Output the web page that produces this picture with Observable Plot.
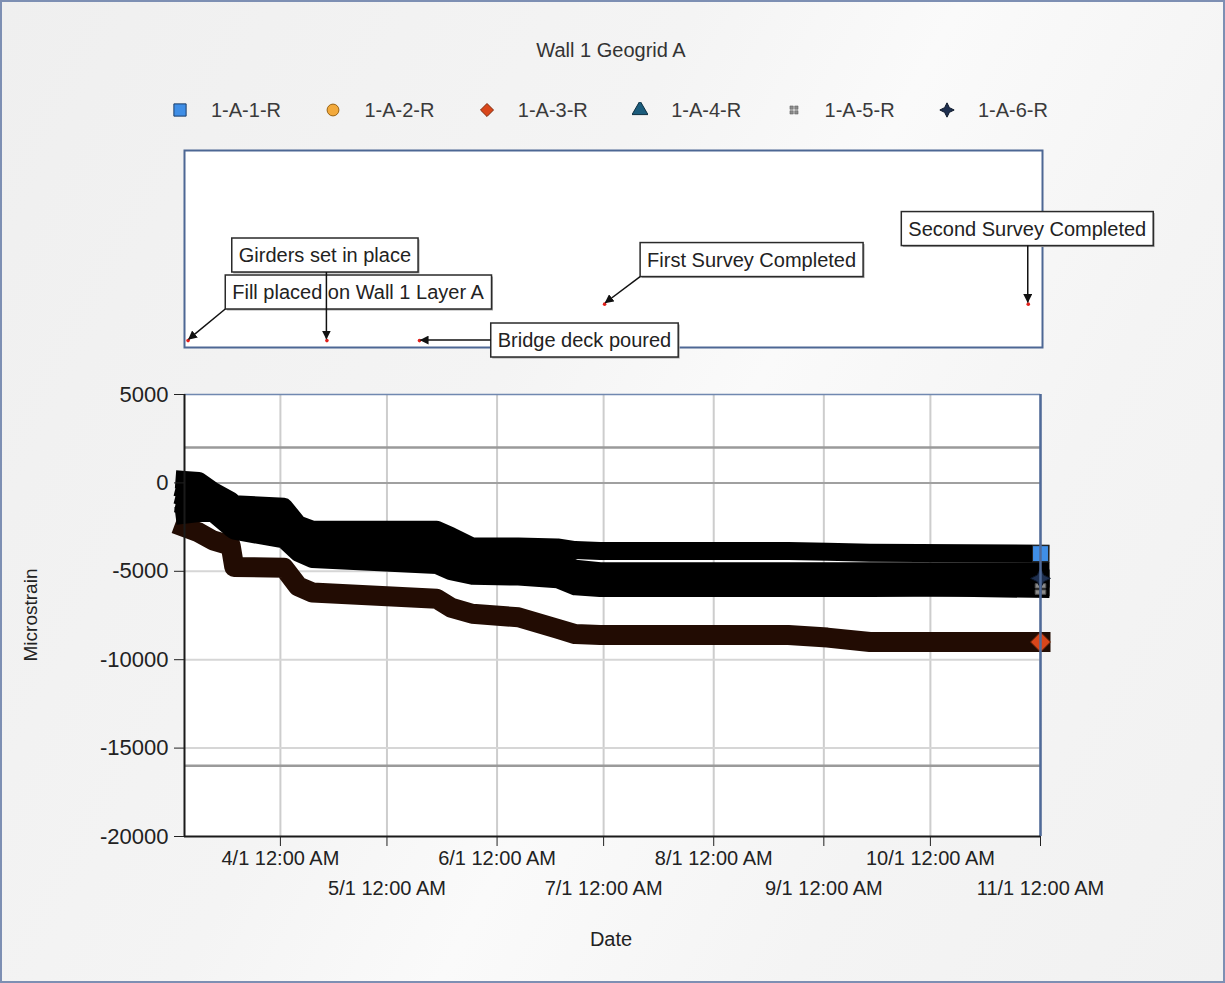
<!DOCTYPE html>
<html>
<head>
<meta charset="utf-8">
<script src="https://cdn.jsdelivr.net/npm/d3@7"></script>
<script src="https://cdn.jsdelivr.net/npm/@observablehq/plot@0.6"></script>
<style>
  html, body { margin: 0; padding: 0; }
  body {
    width: 1225px; height: 983px; position: relative; overflow: hidden;
    font-family: "Liberation Sans", Arial, sans-serif; color: #333;
    background: linear-gradient(118deg, #efefef 0%, #f4f4f4 40%, #fafafa 55%, #f4f4f4 75%, #f1f1f1 100%);
  }
  #border { position: absolute; left: 0; top: 0; width: 1225px; height: 983px; box-sizing: border-box; border: 2px solid #7d8fb3; pointer-events: none; }
  #title { position: absolute; left: 0; width: 1222px; top: 38px; text-align: center; font-size: 20px; line-height: 24px; color: #333; }
  #legend { position: absolute; left: 172px; top: 98px; height: 24px; display: flex; }
  .item { width: 153.4px; display: flex; align-items: center; font-size: 20px; color: #3a3a3a; }
  .item svg { flex: none; }
  .item span { margin-left: 23px; }
  #panel { position: absolute; left: 0; top: 140px; }
  #main { position: absolute; left: 0; top: 360px; }
  #ytitle { position: absolute; left: 31px; top: 615px; transform: translate(-50%, -50%) rotate(-90deg); font-size: 19px; color: #222; white-space: nowrap; }
  #xtitle { position: absolute; left: 0; width: 1222px; top: 928px; text-align: center; font-size: 20px; color: #222; }
</style>
</head>
<body>
<div id="title">Wall 1 Geogrid A</div>
<div id="legend"></div>
<div id="panel"></div>
<div id="main"></div>
<div id="ytitle">Microstrain</div>
<div id="xtitle">Date</div>
<div id="border"></div>
<script>
// ---------------- DATA ----------------
const seriesNames = ["1-A-1-R", "1-A-2-R", "1-A-3-R", "1-A-4-R", "1-A-5-R", "1-A-6-R"];
const sampleDates = ["2011-03-05","2011-03-09","2011-03-13","2011-03-18","2011-03-19","2011-04-02","2011-04-06","2011-04-10","2011-05-15","2011-05-19","2011-05-25","2011-06-07","2011-06-18","2011-06-23","2011-06-30","2011-08-22","2011-09-02","2011-09-14","2011-11-01"];
const s1A1R = [170, 110, -450, -1000, -1200, -1350, -2350, -2650, -2650, -3000, -3600, -3600, -3650, -3800, -3850, -3850, -3900, -3950, -4000];
const s1A2R = [-350, -550, -900, -1400, -1600, -1800, -2750, -3100, -3300, -3750, -4200, -4300, -4450, -4850, -5000, -5000, -5000, -5000, -5000];
const s1A3R = [-2500, -2800, -3250, -3550, -4750, -4800, -5850, -6200, -6550, -7050, -7400, -7600, -8250, -8550, -8600, -8600, -8750, -9000, -9000];
const s1A4R = [-1800, -1700, -1700, -2550, -2700, -3200, -3950, -4300, -4650, -5000, -5250, -5300, -5450, -5850, -5950, -5950, -5950, -5950, -5900];
const s1A5R = [-1250, -1400, -1600, -2150, -2300, -2700, -3550, -3900, -4200, -4650, -4900, -5000, -5100, -5550, -5650, -5700, -5750, -5850, -6000];
const s1A6R = [-800, -1000, -1300, -1850, -2050, -2250, -3150, -3550, -3800, -4250, -4600, -4650, -4800, -5200, -5300, -5300, -5350, -5350, -5400];
const limitValues = [2000, -16000];

const xDomainDates = ["2011-03-05", "2011-11-01"];
const monthTickDates = ["2011-04-01","2011-05-01","2011-06-01","2011-07-01","2011-08-01","2011-09-01","2011-10-01","2011-11-01"];
const yTicks = [5000, 0, -5000, -10000, -15000, -20000];

const eventLabels = ["Fill placed on Wall 1 Layer A", "Girders set in place", "Bridge deck poured", "First Survey Completed", "Second Survey Completed"];
const eventDates = ["2011-03-06", "2011-04-14", "2011-05-10", "2011-07-01", "2011-10-28"];
const eventLevels = [0.035, 0.035, 0.035, 0.22, 0.22];

// ---------------- LAYOUT / STYLE ----------------
const FONT = "'Liberation Sans', Arial, sans-serif";
const calloutOffsets = [[170, -48], [-2, -85], [165, 0], [147, -44], [-1, -75]];
const seriesColors = ["#3f8ee6", "#f2a93b", "#d9461a", "#1b5c7c", "#8c8c8c", "#1f3050"];
const seriesEdge = ["#1a3d6a", "#9a6414", "#7e2a0c", "#0c2e40", "#555", "#0c1628"];

const star4 = { draw(ctx, size) { const r = Math.sqrt(size) * 0.8, k = r * 0.33;
  ctx.moveTo(0, -r); ctx.lineTo(k, -k); ctx.lineTo(r, 0); ctx.lineTo(k, k);
  ctx.lineTo(0, r); ctx.lineTo(-k, k); ctx.lineTo(-r, 0); ctx.lineTo(-k, -k); ctx.closePath(); } };
const hash = { draw(ctx, size) { const s = Math.sqrt(size) / 2, q = s * 0.7;
  for (const [cx, cy] of [[-s/2, -s/2], [s/2, -s/2], [-s/2, s/2], [s/2, s/2]]) {
    ctx.moveTo(cx - q/2, cy - q/2); ctx.lineTo(cx + q/2, cy - q/2); ctx.lineTo(cx + q/2, cy + q/2); ctx.lineTo(cx - q/2, cy + q/2); ctx.closePath(); } } };
const rhombus = { draw(ctx, size) { const r = Math.sqrt(size) * 0.62;
  ctx.moveTo(0, -r); ctx.lineTo(r, 0); ctx.lineTo(0, r); ctx.lineTo(-r, 0); ctx.closePath(); } };
const seriesSymbols = [d3.symbolSquare, d3.symbolCircle, rhombus, d3.symbolTriangle, hash, star4];
const legendSizes = [150, 110, 110, 110, 90, 80];

// ---------------- BUILD ----------------
const parse = d3.utcParse("%Y-%m-%d");
const X_DOMAIN = xDomainDates.map(parse);
const monthTicks = monthTickDates.map(parse);
const row1 = monthTicks.filter((d, i) => i % 2 === 0);
const row2 = monthTicks.filter((d, i) => i % 2 === 1);
const fmt = d => `${d.getUTCMonth() + 1}/${d.getUTCDate()} 12:00 AM`;

const seriesValues = [s1A1R, s1A2R, s1A3R, s1A4R, s1A5R, s1A6R];
const rows = seriesNames.map((name, k) => sampleDates.map((d, i) => ({series: name, date: parse(d), value: seriesValues[k][i]})));
const drawOrder = ["1-A-4-R", "1-A-5-R", "1-A-6-R", "1-A-2-R", "1-A-1-R"];
const blackRows = drawOrder.flatMap(n => rows[seriesNames.indexOf(n)]);
const redRows = rows[seriesNames.indexOf("1-A-3-R")];
const endMarkerSeries = ["1-A-5-R", "1-A-6-R", "1-A-1-R", "1-A-3-R"];

// Legend
const legend = d3.select("#legend");
seriesNames.forEach((name, k) => {
  const item = legend.append("div").attr("class", "item");
  const s = item.append("svg").attr("width", 16).attr("height", 16);
  s.append("path").attr("transform", "translate(8,8)")
    .attr("d", d3.symbol().type(seriesSymbols[k]).size(legendSizes[k])())
    .attr("fill", seriesColors[k]).attr("stroke", seriesEdge[k]).attr("stroke-width", k === 4 ? 0.5 : 1);
  item.append("span").text(name);
});

// Main chart
const endMarks = endMarkerSeries.map(name => {
  const k = seriesNames.indexOf(name);
  const last = rows[k][rows[k].length - 1];
  return Plot.dot([last], {x: "date", y: "value", symbol: seriesSymbols[k], fill: seriesColors[k],
    stroke: name === "1-A-1-R" ? "#222" : seriesEdge[k], strokeWidth: 1,
    r: name === "1-A-1-R" ? 9 : name === "1-A-3-R" ? 9 : 7});
});

const main = Plot.plot({
  width: 1225, height: 600,
  marginLeft: 184, marginRight: 185, marginTop: 34, marginBottom: 124,
  style: {background: "transparent", fontFamily: FONT, color: "#222", overflow: "visible"},
  x: {type: "utc", domain: X_DOMAIN},
  y: {domain: [-20000, 5000]},
  marks: [
    Plot.frame({fill: "white", stroke: null}),
    Plot.ruleX(monthTicks, {stroke: "#cdcdcd", strokeWidth: 2}),
    Plot.ruleY(yTicks.filter(v => v < 0 && v > -20000), {stroke: "#d6d6d6", strokeWidth: 2}),
    Plot.ruleY([0], {stroke: "#a0a0a0", strokeWidth: 2}),
    Plot.ruleY(limitValues, {stroke: "#9a9a9a", strokeWidth: 2.5}),
    Plot.line(redRows, {x: "date", y: "value", stroke: "#220c03", strokeWidth: 20, strokeLinejoin: "round", strokeLinecap: "square"}),
    Plot.line(blackRows, {x: "date", y: "value", z: "series", stroke: "#000", strokeWidth: 18, strokeLinejoin: "round", strokeLinecap: "square"}),
    ...endMarks,
    Plot.ruleY([5000], {stroke: "#7088b0", strokeWidth: 1.5}),
    Plot.ruleX([X_DOMAIN[1]], {stroke: "#4f6a99", strokeWidth: 2.5}),
    Plot.ruleX([X_DOMAIN[0]], {stroke: "#1a1a1a", strokeWidth: 2}),
    Plot.ruleY([-20000], {stroke: "#1a1a1a", strokeWidth: 2}),
    Plot.axisY({ticks: yTicks, tickSize: 10, tickPadding: 6, fontSize: 22, label: null, tickFormat: d => String(d)}),
    Plot.axisX({ticks: row1, tickSize: 10, tickPadding: 4, fontSize: 20, label: null, tickFormat: fmt}),
    Plot.axisX({ticks: row2, tickSize: 10, tickPadding: 34, fontSize: 20, label: null, tickFormat: fmt})
  ]
});
document.getElementById("main").appendChild(main);

// Annotation panel
const events = eventLabels.map((label, i) => ({label, date: parse(eventDates[i]), level: eventLevels[i]}));
const panel = Plot.plot({
  width: 1225, height: 230,
  marginLeft: 184, marginRight: 183, marginTop: 10, marginBottom: 23,
  style: {background: "transparent", fontFamily: FONT, color: "#222", overflow: "visible"},
  x: {type: "utc", domain: X_DOMAIN, axis: null},
  y: {domain: [0, 1], axis: null},
  marks: [
    Plot.frame({fill: "white", stroke: "#4d6794", strokeWidth: 2}),
    Plot.dot(events, {x: "date", y: "level", fill: "#e0201b", r: 1.8}),
    ...events.map((e, i) => Plot.text([e], {x: "date", y: "level", text: "label",
      dx: calloutOffsets[i][0], dy: calloutOffsets[i][1], fontSize: 20, fill: "#222"}))
  ]
});
document.getElementById("panel").appendChild(panel);

// Callout boxes and leader arrows, positioned from the panel's own scales
const xs = panel.scale("x"), ys = panel.scale("y");
const psvg = d3.select(panel);
const defs = psvg.append("defs");
defs.append("marker").attr("id", "ah").attr("viewBox", "0 0 10 10").attr("refX", 9).attr("refY", 5)
  .attr("markerWidth", 6).attr("markerHeight", 6).attr("orient", "auto")
  .append("path").attr("d", "M0,0L10,5L0,10z").attr("fill", "#111");
const texts = panel.querySelectorAll('g[aria-label="text"] text');
const arrows = psvg.append("g");
events.forEach((e, i) => {
  const t = texts[i];
  if (!t) return;
  const bb = t.getBBox();
  const padX = 7, padY = 6;
  const tf = t.getAttribute("transform");
  const parent = d3.select(t.parentNode);
  parent.insert("rect", () => t).attr("transform", tf).attr("x", bb.x - padX + 1.5).attr("y", bb.y - padY + 1.5)
    .attr("width", bb.width + 2 * padX).attr("height", bb.height + 2 * padY).attr("fill", "#a8a8a8");
  parent.insert("rect", () => t).attr("transform", tf).attr("x", bb.x - padX).attr("y", bb.y - padY)
    .attr("width", bb.width + 2 * padX).attr("height", bb.height + 2 * padY)
    .attr("fill", "white").attr("stroke", "#2a2a2a").attr("stroke-width", 1.5);
  const m = t.getCTM();
  const left = bb.x - padX + m.e, right = left + bb.width + 2 * padX;
  const top = bb.y - padY + m.f, bottom = top + bb.height + 2 * padY;
  const px = xs.apply(e.date), py = ys.apply(e.level);
  let sx, sy;
  if (py >= top && py <= bottom) { sx = px < left ? left : right; sy = py; }
  else { sx = Math.max(left, Math.min(right, px)); sy = py > bottom ? bottom : top; }
  const dist = Math.hypot(px - sx, py - sy);
  const ex = px - (px - sx) / dist * 1.5, ey = py - (py - sy) / dist * 1.5;
  arrows.append("line").attr("x1", sx).attr("y1", sy).attr("x2", ex).attr("y2", ey)
    .attr("stroke", "#111").attr("stroke-width", 1.5).attr("marker-end", "url(#ah)");
});
</script>
</body>
</html>
